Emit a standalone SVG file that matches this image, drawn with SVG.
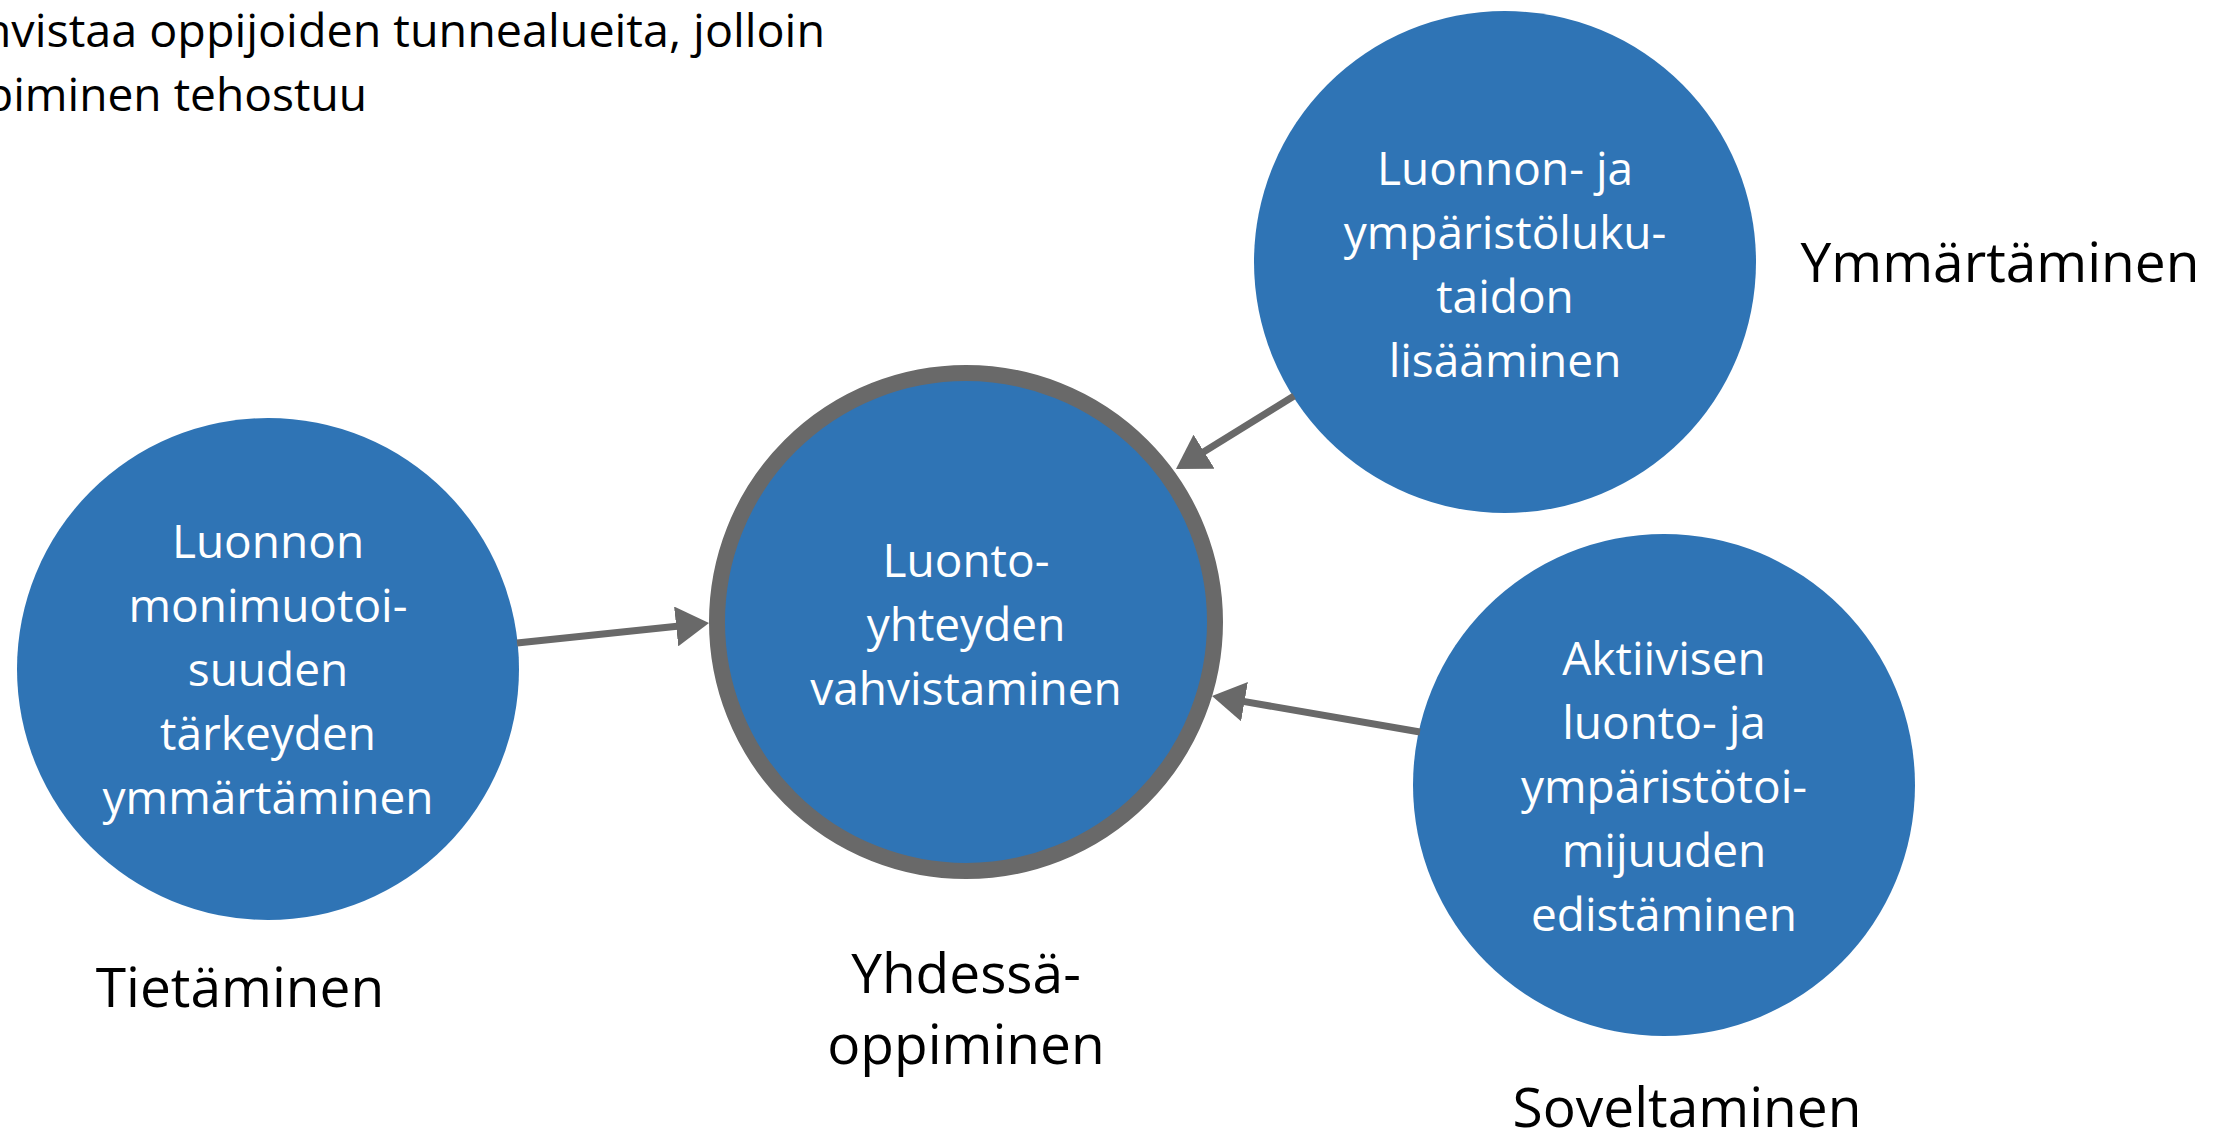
<svg xmlns="http://www.w3.org/2000/svg" width="2231" height="1135" viewBox="0 0 2231 1135">
<style>
.node{fill:#2F74B5}
.hub{fill:#2F74B5;stroke:#696969;stroke-width:16}
.nt{font-family:"Open Sans","Liberation Sans",sans-serif;font-size:46px;fill:#FFFFFF;text-anchor:middle}
.lbl{font-family:"Open Sans","Liberation Sans",sans-serif;font-size:55px;fill:#000000;text-anchor:middle}
.top{font-family:"Open Sans","Liberation Sans",sans-serif;font-size:46px;fill:#000000}
.conn{stroke:#696969;stroke-width:7;fill:none;marker-end:url(#arr)}
</style>
<defs>
<marker id="arr" markerUnits="userSpaceOnUse" viewBox="0 -20 33 40" markerWidth="33" markerHeight="40" refX="13" refY="0" orient="auto">
<path d="M0,-20 L33,0 L0,20 z" fill="#696969"/>
</marker>
</defs>
<rect x="0" y="0" width="2231" height="1135" fill="#FFFFFF"/>
<g id="intro">
<text class="top" x="-71" y="47" textLength="896" lengthAdjust="spacingAndGlyphs">Vahvistaa oppijoiden tunnealueita, jolloin</text>
<text class="top" x="-71" y="111" textLength="438" lengthAdjust="spacingAndGlyphs">oppiminen tehostuu</text>
</g>
<g id="node-tietaminen">
<circle class="node" cx="268" cy="669" r="251"/>
<text class="nt" x="268" y="558">Luonnon</text>
<text class="nt" x="268" y="622">monimuotoi-</text>
<text class="nt" x="268" y="686">suuden</text>
<text class="nt" x="268" y="750">tärkeyden</text>
<text class="nt" x="268" y="814">ymmärtäminen</text>
</g>
<g id="node-luontoyhteys">
<circle class="hub" cx="966" cy="622" r="249"/>
<text class="nt" x="966" y="577">Luonto-</text>
<text class="nt" x="966" y="641">yhteyden</text>
<text class="nt" x="966" y="705">vahvistaminen</text>
</g>
<g id="node-lukutaito">
<circle class="node" cx="1505" cy="262" r="251"/>
<text class="nt" x="1505" y="185">Luonnon- ja</text>
<text class="nt" x="1505" y="249">ympäristöluku-</text>
<text class="nt" x="1505" y="313">taidon</text>
<text class="nt" x="1505" y="377">lisääminen</text>
</g>
<g id="node-toimijuus">
<circle class="node" cx="1664" cy="785" r="251"/>
<text class="nt" x="1664" y="675">Aktiivisen</text>
<text class="nt" x="1664" y="739">luonto- ja</text>
<text class="nt" x="1664" y="803">ympäristötoi-</text>
<text class="nt" x="1664" y="867">mijuuden</text>
<text class="nt" x="1664" y="931">edistäminen</text>
</g>
<g id="labels">
<text class="lbl" x="240" y="1007">Tietäminen</text>
<text class="lbl" x="966" y="993">Yhdessä-</text>
<text class="lbl" x="966" y="1064">oppiminen</text>
<text class="lbl" x="2000" y="282">Ymmärtäminen</text>
<text class="lbl" x="1687" y="1127">Soveltaminen</text>
</g>
<g id="connectors">
<line class="conn" x1="517" y1="643" x2="689.1" y2="625.1"/>
<line class="conn" x1="1294" y1="396" x2="1193" y2="458.5"/>
<line class="conn" x1="1420" y1="732" x2="1231.7" y2="699.4"/>
</g>
</svg>
